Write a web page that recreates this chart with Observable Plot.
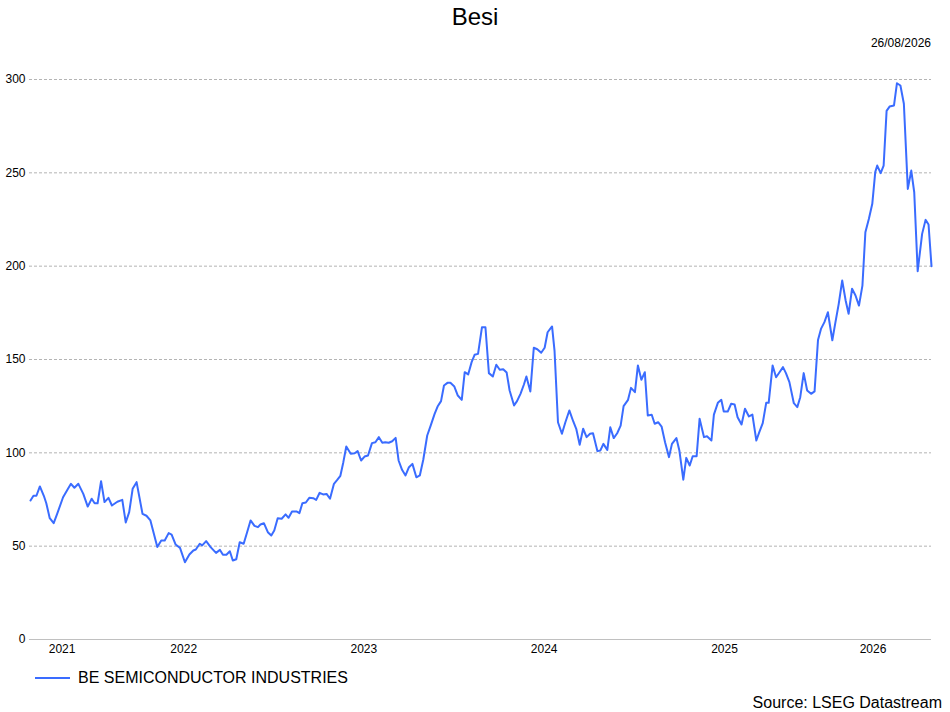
<!DOCTYPE html>
<html>
<head>
<meta charset="utf-8">
<script src="https://cdn.jsdelivr.net/npm/d3@7"></script>
<script src="https://cdn.jsdelivr.net/npm/@observablehq/plot@0.6"></script>
<style>
  html, body { margin: 0; padding: 0; background: #fff; }
  body { width: 950px; height: 712px; overflow: hidden; font-family: "Liberation Sans", Arial, sans-serif; color: #000; }
  #header { position: relative; height: 60px; }
  #title { position: absolute; left: 0; width: 950px; top: 3px; text-align: center; font-size: 24px; line-height: 28px; }
  #date { position: absolute; right: 19px; top: 36px; font-size: 12px; line-height: 14px; }
  #footer { position: relative; height: 47px; }
  #legend { position: absolute; left: 35px; top: 4px; display: flex; align-items: center; font-size: 16px; line-height: 18px; }
  #legend .sw { width: 35px; height: 2px; background: #3a6cff; margin-right: 8px; }
  #source { position: absolute; right: 8px; top: 29px; font-size: 16px; line-height: 18px; }
</style>
</head>
<body>
<div id="header"><div id="title">Besi</div><div id="date">26/08/2026</div></div>
<div id="chart"></div>
<div id="footer"><div id="legend"><div class="sw"></div><span>BE SEMICONDUCTOR INDUSTRIES</span></div><div id="source">Source: LSEG Datastream</div></div>
<script>
const seriesName = "BE SEMICONDUCTOR INDUSTRIES";
const dates = [
"2021-08-26","2021-09-01","2021-09-07","2021-09-14","2021-09-22","2021-09-27","2021-10-04","2021-10-12","2021-10-19","2021-10-31",
"2021-11-10","2021-11-16","2021-11-23","2021-12-01","2021-12-11","2021-12-20","2021-12-28","2022-01-03","2022-01-09","2022-01-16",
"2022-01-23","2022-01-31","2022-02-07","2022-02-18","2022-02-28","2022-03-07","2022-03-14","2022-03-21","2022-03-29","2022-04-10",
"2022-04-18","2022-04-26","2022-05-10","2022-05-18","2022-05-25","2022-06-02","2022-06-08","2022-06-16","2022-06-25","2022-07-05",
"2022-07-14","2022-07-22","2022-07-27","2022-08-04","2022-08-09","2022-08-17","2022-08-26","2022-09-06","2022-09-14","2022-09-20",
"2022-09-27","2022-10-04","2022-10-10","2022-10-17","2022-10-24","2022-11-01","2022-11-08","2022-11-15","2022-11-23","2022-11-30",
"2022-12-05","2022-12-12","2022-12-20","2022-12-27","2023-01-02","2023-01-09","2023-01-17","2023-01-25","2023-01-31","2023-02-07",
"2023-02-16","2023-02-22","2023-02-28","2023-03-07","2023-03-14","2023-03-22","2023-03-28","2023-04-04","2023-04-11","2023-04-18",
"2023-04-25","2023-05-03","2023-05-10","2023-05-16","2023-05-22","2023-05-28","2023-06-06","2023-06-14","2023-06-20","2023-06-27",
"2023-07-04","2023-07-11","2023-07-19","2023-07-26","2023-08-02","2023-08-09","2023-08-15","2023-08-22","2023-08-29","2023-09-05",
"2023-09-11","2023-09-18","2023-09-25","2023-10-02","2023-10-09","2023-10-17","2023-10-24","2023-10-31","2023-11-08","2023-11-15",
"2023-11-23","2023-11-29","2023-12-06","2023-12-12","2023-12-19","2023-12-25","2024-01-02","2024-01-09","2024-01-17","2024-01-23",
"2024-01-30","2024-02-06","2024-02-12","2024-02-19","2024-02-27","2024-03-05","2024-03-12","2024-03-20","2024-03-27","2024-04-03",
"2024-04-10","2024-04-17","2024-04-23","2024-05-02","2024-05-08","2024-05-15","2024-05-22","2024-05-27","2024-06-04","2024-06-11",
"2024-06-18","2024-06-26","2024-07-03","2024-07-09","2024-07-18","2024-07-23","2024-07-30","2024-08-07","2024-08-14","2024-08-22",
"2024-08-30","2024-09-05","2024-09-12","2024-09-19","2024-09-26","2024-10-03","2024-10-09","2024-10-18","2024-10-24","2024-10-30",
"2024-11-07","2024-11-13","2024-11-20","2024-11-27","2024-12-04","2024-12-10","2024-12-19","2024-12-25","2025-01-02","2025-01-08",
"2025-01-15","2025-01-22","2025-01-28","2025-02-05","2025-02-11","2025-02-18","2025-02-25","2025-03-04","2025-03-12","2025-03-18",
"2025-03-27","2025-04-02","2025-04-10","2025-04-16","2025-04-23","2025-04-29","2025-05-07","2025-05-13","2025-05-22","2025-05-28",
"2025-06-06","2025-06-11","2025-06-19","2025-06-26","2025-07-01","2025-07-09","2025-07-16","2025-07-23","2025-07-29","2025-08-06",
"2025-08-13","2025-08-21","2025-08-28","2025-09-05","2025-09-11","2025-09-18","2025-09-25","2025-09-30","2025-10-08","2025-10-15",
"2025-10-22","2025-10-29","2025-11-04","2025-11-11","2025-11-20","2025-11-27","2025-12-03","2025-12-10","2025-12-17","2025-12-25",
"2026-01-01","2026-01-08","2026-01-14","2026-01-21","2026-01-28","2026-02-06","2026-02-12","2026-02-19","2026-02-26","2026-03-05",
"2026-03-11","2026-03-18","2026-03-25","2026-04-01","2026-04-08","2026-04-14","2026-04-21","2026-04-28","2026-05-04","2026-05-08",
"2026-05-15","2026-05-21","2026-05-27","2026-06-02","2026-06-11","2026-06-17","2026-06-24","2026-07-01","2026-07-09","2026-07-16",
"2026-07-22","2026-07-29","2026-08-07","2026-08-14","2026-08-20","2026-08-26"
];
const values = [
74.5,77,77,82,77,73,65,62.3,67.3,76.2,
80.7,83.4,81.3,83.4,78,71.2,75.4,73,73,84.8,
73.6,75.9,71.8,73.8,74.8,62.7,68.2,80.7,84.3,67.3,
66.3,63.8,49.5,53,53,57,56.2,50.9,49.1,41.4,
45.5,47.7,48.2,51.3,50.4,52.7,49.5,46.4,48,45.4,
45.4,47.3,42.3,43,52.1,51.3,57.5,63.8,60.9,60.2,
61.6,62.3,57.5,55.7,58.4,65,64.7,67,65.2,68.6,
68.6,67.7,73,73.4,75.9,75.7,74.8,78.6,77.7,78,
75.4,83.4,85.6,87.7,95,103.4,99.5,99.8,100.9,95.9,
98,98.6,105.2,105.7,108.4,105.4,105.7,105.4,106.2,108,
95.9,90.9,87.9,92.3,94.1,86.9,87.9,96.3,109.3,114.6,
120.9,124.8,127.7,136.1,137.5,137.5,135.5,130.7,128.4,143.2,
142,148.6,152.5,153,167.3,167.3,142.7,140.9,147.2,144.5,
144.8,143,133.4,125.4,127.7,131.6,136.6,140.9,132.9,156.3,
155.5,153.6,156.3,164.6,167.7,154.8,116.4,110.2,116.4,122.7,
116.8,112.9,104.3,112.9,108.4,110.2,110.5,100.9,101.3,104.8,
101.6,113.7,107.9,110.5,114.6,125,128.4,134.8,132.5,146.8,
139.1,143.2,120,120.4,115.6,116.4,114.1,105.7,97.7,104.8,
107.9,101.3,85.6,97.3,93.2,98.2,98.2,118.2,108.4,108.9,
106.6,120.5,126.8,128.4,122.1,122.1,126.3,125.9,119.1,115.2,
123.6,119.5,120.5,106.6,111.1,115.9,126.8,126.8,146.8,140.5,
143.2,145.9,142.7,137.9,126.6,124.5,129.8,142.7,133.4,131.6,
132.9,160.5,166.4,170,175.3,160.3,169.5,179.8,192.3,181.6,
174.5,187.9,184.3,178.9,189.6,218.2,225.3,233.4,250.4,253.9,
249.8,253.9,283.2,285.5,286.1,298,296.8,287,241.4,251.2,
239.6,197.3,217.3,224.8,222.3,200
];
const yTicks = [0, 50, 100, 150, 200, 250, 300];
const yearLabels = ["2021", "2022", "2023", "2024", "2025", "2026"];

const parse = d3.utcParse("%Y-%m-%d");
const data = dates.map((d, i) => ({date: parse(d), value: values[i], series: seriesName}));
const start = data[0].date, end = data[data.length - 1].date;
const yearMids = yearLabels.map(y => {
  const a = new Date(Math.max(+start, Date.UTC(+y, 0, 1)));
  const b = new Date(Math.min(+end, Date.UTC(+y + 1, 0, 1)));
  return new Date((+a + +b) / 2);
});
const gridRows = yTicks.filter(t => t > 0).map(t => ({y: t, x1: start, x2: end}));
const baseRow = [{y: 0, x1: start, x2: end}];

const chart = Plot.plot({
  width: 950,
  height: 605,
  marginLeft: 30,
  marginRight: 19,
  marginTop: 19,
  marginBottom: 26,
  style: {fontFamily: "Liberation Sans, Arial, sans-serif", fontSize: "12px", color: "#000", background: "#fff"},
  x: {type: "utc", domain: [start, end]},
  y: {domain: [0, 300]},
  marks: [
    Plot.ruleY(gridRows, {y: "y", x1: "x1", x2: "x2", stroke: "#b4b4b4", strokeDasharray: "3,2", insetLeft: -1}),
    Plot.ruleY(baseRow, {y: "y", x1: "x1", x2: "x2", stroke: "#c0c0c0", strokeWidth: 1, insetLeft: -1}),
    Plot.axisY(yTicks, {tickSize: 0, tickPadding: 5, label: null, fill: "#000"}),
    Plot.axisX(yearMids, {tickSize: 0, tickPadding: 5, label: null, tickFormat: d => d3.utcFormat("%Y")(d), fill: "#000"}),
    Plot.lineY(data, {x: "date", y: "value", stroke: "#3a6cff", strokeWidth: 2})
  ]
});
document.getElementById("chart").appendChild(chart);
</script>
</body>
</html>
